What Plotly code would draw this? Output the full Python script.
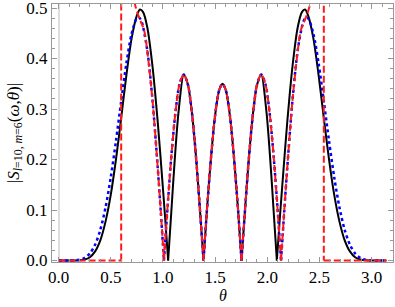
import plotly.graph_objects as go

# Black solid curve (exact)
theta_black = [0.0, 0.1, 0.2, 0.25, 0.3, 0.35, 0.4, 0.45, 0.5, 0.55, 0.6, 0.65, 0.7, 0.75, 0.78, 0.81, 0.85, 0.9, 0.95, 0.99, 1.02, 1.05,
               None, 1.05, 1.08, 1.11, 1.15, 1.2, 1.24, 1.28, 1.32, 1.36, 1.389,
               None, 1.389, 1.42, 1.46, 1.5, 1.54, 1.571, 1.602, 1.642, 1.682, 1.722, 1.753,
               None, 1.753, 1.782, 1.822, 1.862, 1.902, 1.942, 1.992, 2.032, 2.062, 2.092,
               None, 2.092, 2.122, 2.152, 2.192, 2.242, 2.292, 2.332, 2.362, 2.392, 2.442, 2.492, 2.542, 2.592, 2.642, 2.692, 2.742, 2.792, 2.842, 2.892, 2.942, 3.042, 3.142]
s_black = [0.0, 0.0, 0.0005, 0.002, 0.0065, 0.018, 0.040, 0.077, 0.130, 0.200, 0.282, 0.367, 0.440, 0.485, 0.497, 0.492, 0.462, 0.385, 0.275, 0.170, 0.088, 0.0,
           None, 0.0, 0.095, 0.19, 0.295, 0.368, 0.348, 0.2887, 0.1978, 0.0858, 0.0,
           None, 0.0, 0.0946, 0.2015, 0.2871, 0.3378, 0.350, 0.3378, 0.2871, 0.2015, 0.0946, 0.0,
           None, 0.0, 0.0858, 0.1978, 0.2887, 0.348, 0.368, 0.295, 0.19, 0.095, 0.0,
           None, 0.0, 0.088, 0.170, 0.275, 0.385, 0.462, 0.492, 0.497, 0.485, 0.440, 0.367, 0.282, 0.200, 0.130, 0.077, 0.040, 0.018, 0.0065, 0.002, 0.0005, 0.0, 0.0]

# Blue dotted curve (approximation)
theta_blue = [0.0, 0.1, 0.2, 0.25, 0.3, 0.35, 0.4, 0.45, 0.5, 0.55, 0.6, 0.65, 0.7, 0.75, 0.775, 0.8, 0.85, 0.9, 0.95, 0.98, 1.01,
              None, 1.01, 1.04, 1.08, 1.12, 1.16, 1.2, 1.24, 1.28, 1.32, 1.36, 1.389,
              None, 1.389, 1.42, 1.46, 1.5, 1.54, 1.571, 1.602, 1.642, 1.682, 1.722, 1.753,
              None, 1.753, 1.782, 1.822, 1.862, 1.902, 1.942, 1.982, 2.022, 2.062, 2.102, 2.132,
              None, 2.132, 2.162, 2.192, 2.242, 2.292, 2.342, 2.367, 2.392, 2.442, 2.492, 2.542, 2.592, 2.642, 2.692, 2.742, 2.792, 2.842, 2.892, 2.942, 3.042, 3.142]
s_blue = [0.0, 0.0, 0.0015, 0.0051, 0.0139, 0.0312, 0.0606, 0.1049, 0.1643, 0.2367, 0.3153, 0.3905, 0.4491, 0.4795, 0.4805, 0.4703, 0.4167, 0.3182, 0.1847, 0.0958, 0.0,
          None, 0.0, 0.0924, 0.2043, 0.2933, 0.350, 0.3686, 0.3478, 0.2887, 0.1978, 0.0858, 0.0,
          None, 0.0, 0.0946, 0.2015, 0.2871, 0.3378, 0.350, 0.3378, 0.2871, 0.2015, 0.0946, 0.0,
          None, 0.0, 0.0858, 0.1978, 0.2887, 0.3478, 0.3686, 0.350, 0.2933, 0.2043, 0.0924, 0.0,
          None, 0.0, 0.0958, 0.1847, 0.3182, 0.4167, 0.4703, 0.4805, 0.4795, 0.4491, 0.3905, 0.3153, 0.2367, 0.1643, 0.1049, 0.0606, 0.0312, 0.0139, 0.0051, 0.0015, 0.0, 0.0]

# Red dashed curve (WKB, diverges at turning points)
theta_red = [0.0, 0.6, None, 0.6, 0.6, None,
             0.69, 0.71, 0.73, 0.76, 0.79, 0.82, 0.85, 0.9, 0.95, 0.98, 1.01,
             None, 1.01, 1.04, 1.08, 1.12, 1.16, 1.2, 1.24, 1.28, 1.32, 1.36, 1.389,
             None, 1.389, 1.42, 1.46, 1.5, 1.54, 1.571, 1.602, 1.642, 1.682, 1.722, 1.753,
             None, 1.753, 1.782, 1.822, 1.862, 1.902, 1.942, 1.982, 2.022, 2.062, 2.102, 2.132,
             None, 2.132, 2.162, 2.192, 2.242, 2.292, 2.322, 2.352, 2.382, 2.412, 2.432, 2.452,
             None, 2.542, 2.542, None, 2.542, 3.142]
s_red = [0.0, 0.0, None, 0.0, 3.0, None,
         0.75, 0.60, 0.51, 0.488, 0.472, 0.456, 0.415, 0.318, 0.185, 0.096, 0.0,
         None, 0.0, 0.0924, 0.2043, 0.2933, 0.350, 0.3686, 0.3478, 0.2887, 0.1978, 0.0858, 0.0,
         None, 0.0, 0.0946, 0.2015, 0.2871, 0.3378, 0.350, 0.3378, 0.2871, 0.2015, 0.0946, 0.0,
         None, 0.0, 0.0858, 0.1978, 0.2887, 0.3478, 0.3686, 0.350, 0.2933, 0.2043, 0.0924, 0.0,
         None, 0.0, 0.096, 0.185, 0.318, 0.415, 0.456, 0.472, 0.488, 0.51, 0.60, 0.75,
         None, 3.0, 0.0, None, 0.0, 0.0]

x_ticks = [0.0, 0.5, 1.0, 1.5, 2.0, 2.5, 3.0]
x_tick_labels = ["0.0", "0.5", "1.0", "1.5", "2.0", "2.5", "3.0"]
y_ticks = [0.0, 0.1, 0.2, 0.3, 0.4, 0.5]
y_tick_labels = ["0.0", "0.1", "0.2", "0.3", "0.4", "0.5"]

SERIF = "Liberation Serif"

fig = go.Figure()
fig.add_trace(go.Scatter(x=theta_black, y=s_black, mode="lines",
                         line=dict(color="black", width=2, shape="spline", smoothing=0.8)))
fig.add_trace(go.Scatter(x=theta_blue, y=s_blue, mode="lines",
                         line=dict(color="#0000ff", width=2.5, dash="dot", shape="spline", smoothing=0.8)))
fig.add_trace(go.Scatter(x=theta_red, y=s_red, mode="lines",
                         line=dict(color="#ff1a1a", width=2, dash="7px,3px", shape="spline", smoothing=0.8)))

axis_col = "#999999"
fig.update_layout(
    width=395, height=307,
    margin=dict(l=52, r=2, t=4, b=45),
    plot_bgcolor="white", paper_bgcolor="white",
    showlegend=False,
    font=dict(family=SERIF, size=17, color="black"),
    xaxis=dict(range=[-0.063, 3.205], tickvals=x_ticks, ticktext=x_tick_labels,
               tickfont=dict(family=SERIF, size=17), ticklabeloverflow="allow",
               ticks="inside", ticklen=5, tickcolor=axis_col, tickwidth=1,
               showline=True, linecolor=axis_col, linewidth=1, mirror="ticks",
               minor=dict(dtick=0.1, tick0=0, ticks="inside", ticklen=3, tickcolor=axis_col),
               showgrid=False, zeroline=True, zerolinecolor="#dddddd", zerolinewidth=1.5,
               automargin=False),
    yaxis=dict(range=[-0.003, 0.508], tickvals=y_ticks, ticktext=y_tick_labels,
               tickfont=dict(family=SERIF, size=17), ticklabeloverflow="allow",
               ticks="inside", ticklen=5, tickcolor=axis_col, tickwidth=1,
               showline=True, linecolor=axis_col, linewidth=1, mirror="ticks",
               minor=dict(dtick=0.02, tick0=0, ticks="inside", ticklen=3, tickcolor=axis_col),
               showgrid=False, zeroline=False, automargin=False,
               title=dict(text="|<i>S</i><sub><i>l</i>=10, <i>m</i>=6</sub>(<i>ω</i>,<i>θ</i>)|",
                          standoff=2, font=dict(family=SERIF, size=17))),
    annotations=[dict(text="<i>θ</i>", xref="paper", yref="paper", x=0.5, y=-0.128,
                      xanchor="center", yanchor="middle", showarrow=False,
                      font=dict(family=SERIF, size=16))],
)

fig.write_html("out.html", config={"displayModeBar": False},
               post_script="document.body.style.margin='0';document.body.style.padding='0';")
